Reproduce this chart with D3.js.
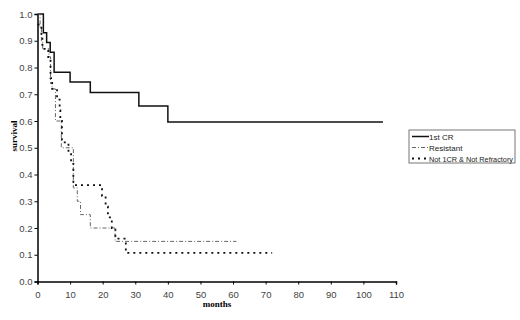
<!DOCTYPE html>
<html>
<head>
<meta charset="UTF-8" />
<title>survival</title>
<script src="https://d3js.org/d3.v7.min.js"></script>
<style>
  body { margin: 0; background: #fff; }
  text { font-family: "Liberation Sans", Arial, sans-serif; }
</style>
</head>
<body>
<svg id="chart" width="520" height="320"></svg>
<script>
// series: [month, survival] step points, last entry = end of follow-up
var firstCR = [[0,1],[1.8,0.93],[2.8,0.893],[3.9,0.857],[5.1,0.782],[10,0.746],[16.2,0.707],[31.1,0.656],[40,0.596],[106,0.596]]
var resistant = [[0,1],[0.8,0.95],[1.2,0.9],[1.6,0.87],[3.5,0.84],[4,0.74],[4.5,0.72],[5.5,0.6],[7.3,0.5],[11,0.35],[12.2,0.3],[13.2,0.25],[16.2,0.2],[23.8,0.15],[61,0.15]]
var notCR = [[0,0.96],[1.2,0.92],[1.5,0.87],[3.3,0.83],[4,0.76],[4.5,0.72],[6,0.68],[6.8,0.64],[7,0.6],[7.5,0.52],[9.5,0.48],[10.3,0.44],[11,0.36],[19.8,0.32],[20.9,0.28],[21.6,0.24],[22.8,0.2],[23.9,0.16],[27.1,0.107],[72,0.107]]

var seriesNames = ["1st CR", "Resistant", "Not 1CR & Not Refractory"]
var xTicks = [0,10,20,30,40,50,60,70,80,90,100,110]
var yTicks = [0,0.1,0.2,0.3,0.4,0.5,0.6,0.7,0.8,0.9,1.0]

var styles = [
  {stroke: "#111", width: 1.5, dash: null},
  {stroke: "#666", width: 1, dash: "4,2,1,2"},
  {stroke: "#111", width: 1.8, dash: "2,4"}
]

var svg = d3.select("#chart")
var x = d3.scaleLinear().domain([0,110]).range([37.5,396])
var y = d3.scaleLinear().domain([0,1]).range([281.5,14])

// axes
var xAxis = d3.axisBottom(x).tickValues(xTicks).tickSize(3).tickFormat(d3.format("d"))
var yAxis = d3.axisLeft(y).tickValues(yTicks).tickSize(3).tickFormat(d3.format(".1f"))

var gx = svg.append("g").attr("transform", "translate(0," + y(0) + ")").call(xAxis)
var gy = svg.append("g").attr("transform", "translate(" + x(0) + ",0)").call(yAxis)
;[gx, gy].forEach(g => {
  g.select(".domain").attr("stroke", "#000").attr("stroke-width", 1.5)
  g.selectAll(".tick line").attr("stroke", "#000")
  g.selectAll("text").attr("fill", "#444").style("font-size", "9.5px")
})
gx.selectAll("text").attr("dy", "1.1em")
gy.selectAll("text").attr("x", -5)

// curves
var line = d3.line().x(d => x(d[0])).y(d => y(d[1])).curve(d3.curveStepAfter)
;[firstCR, resistant, notCR].forEach((data, i) => {
  svg.append("path")
    .attr("d", line(data))
    .attr("fill", "none")
    .attr("stroke", styles[i].stroke)
    .attr("stroke-width", styles[i].width)
    .attr("stroke-dasharray", styles[i].dash)
})

// axis titles
svg.append("text").attr("x", 217).attr("y", 307).attr("text-anchor", "middle")
  .style("font-family", "'Liberation Serif', serif").style("font-weight", "bold").style("font-size", "9px")
  .text("months")
svg.append("text").attr("transform", "translate(17,136) rotate(-90)").attr("text-anchor", "middle")
  .style("font-family", "'Liberation Serif', serif").style("font-weight", "bold").style("font-size", "9px")
  .text("survival")

// legend
var lg = svg.append("g").attr("transform", "translate(409,130)")
lg.append("rect").attr("width", 106).attr("height", 33).attr("fill", "#fff").attr("stroke", "#777").attr("stroke-width", 1)
seriesNames.forEach((name, i) => {
  var ly = 6.5 + i * 11
  lg.append("line").attr("x1", 3).attr("x2", 20).attr("y1", ly).attr("y2", ly)
    .attr("stroke", styles[i].stroke).attr("stroke-width", styles[i].width)
    .attr("stroke-dasharray", styles[i].dash)
  var t = lg.append("text").attr("x", 20).attr("y", ly + 3).attr("fill", "#222")
    .style("font-size", "8px").text(name)
  // squeeze long labels so they stay inside the box
  if (t.node().getComputedTextLength() > 84) t.attr("textLength", 84).attr("lengthAdjust", "spacingAndGlyphs")
})
</script>
</body>
</html>
